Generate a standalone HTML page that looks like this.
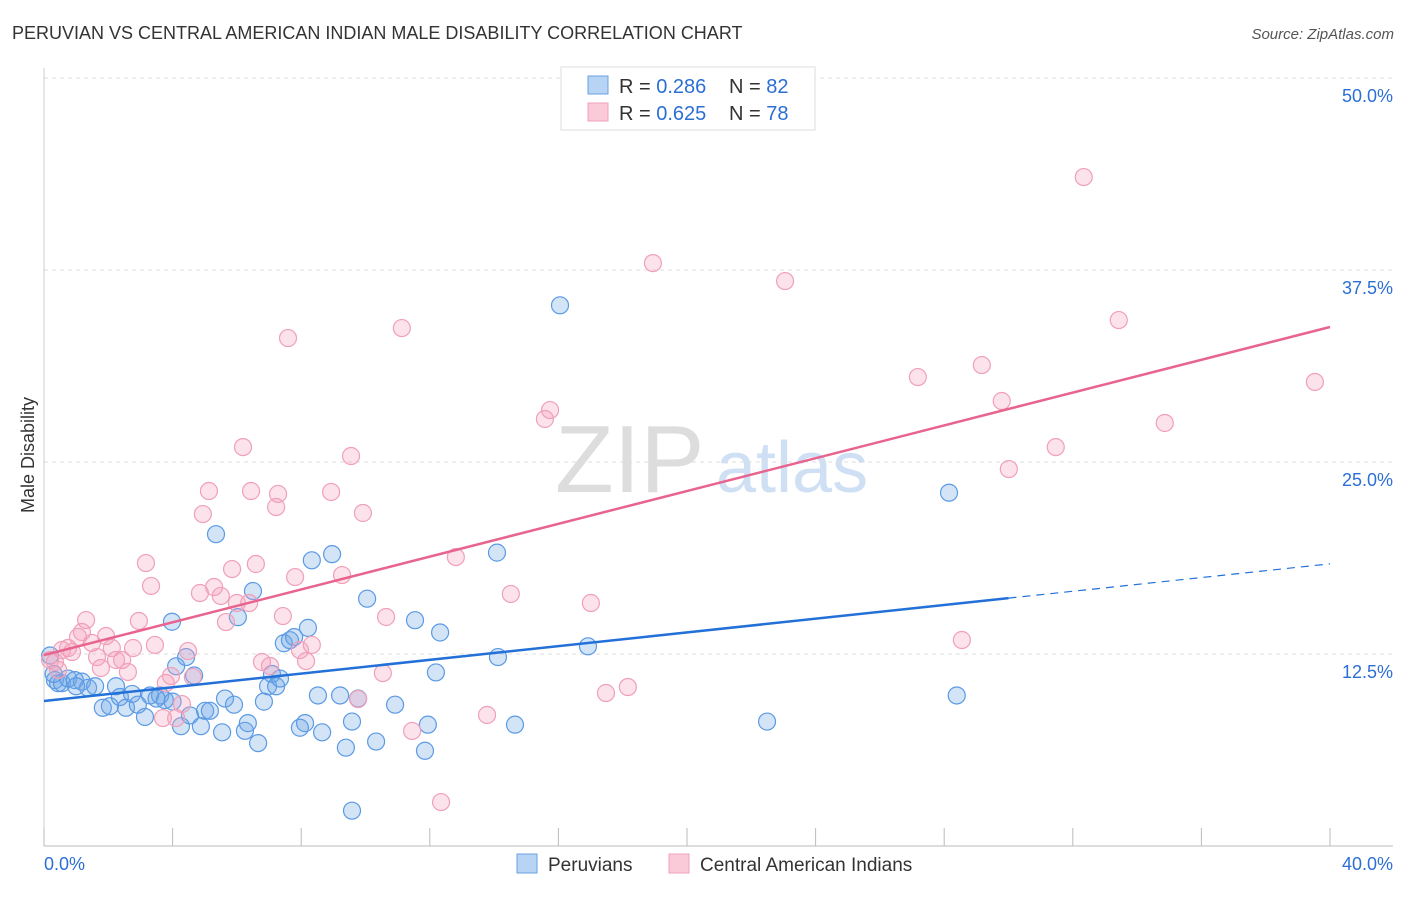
<!DOCTYPE html>
<html><head><meta charset="utf-8"><style>
body{margin:0;background:#fff;font-family:"Liberation Sans",sans-serif;}
svg text{font-family:"Liberation Sans",sans-serif;}
</style></head><body>
<svg id="chart" width="1406" height="892" xmlns="http://www.w3.org/2000/svg">
<text x="12" y="39" font-size="18" fill="#333">PERUVIAN VS CENTRAL AMERICAN INDIAN MALE DISABILITY CORRELATION CHART</text>
<text x="1394" y="39" font-size="15" fill="#555" font-style="italic" text-anchor="end">Source: ZipAtlas.com</text>
<text x="555" y="492" font-size="96" fill="#ddd" font-family="Liberation Serif,serif">ZIP</text>
<text x="716" y="492" font-size="72" fill="#cfe0f4">atlas</text>
<text x="34" y="455" font-size="18" fill="#333" transform="rotate(-90 34 455)" text-anchor="middle">Male Disability</text>
<g id="grid"></g><g id="pts"></g><g id="lines"></g>
<g>
<rect x="561" y="67" width="254" height="63" fill="#fff" stroke="#ddd"/>
<rect x="588" y="76" width="20" height="18" fill="#b8d4f4" stroke="#6aa0e0"/>
<rect x="588" y="103" width="20" height="18" fill="#fbcad8" stroke="#f0a0b8"/>
<text x="619" y="93" font-size="20" fill="#333">R = <tspan fill="#2b6fd6">0.286</tspan></text>
<text x="729" y="93" font-size="20" fill="#333">N = <tspan fill="#2b6fd6">82</tspan></text>
<text x="619" y="120" font-size="20" fill="#333">R = <tspan fill="#2b6fd6">0.625</tspan></text>
<text x="729" y="120" font-size="20" fill="#333">N = <tspan fill="#2b6fd6">78</tspan></text>
</g>
<g>
<rect x="517" y="854" width="20" height="19" fill="#b8d4f4" stroke="#6aa0e0"/>
<text x="548" y="871" font-size="19" fill="#333">Peruvians</text>
<rect x="669" y="854" width="20" height="19" fill="#fbcad8" stroke="#f0a0b8"/>
<text x="700" y="871" font-size="19" fill="#333">Central American Indians</text>
</g>
</svg>
<script>
const yTicks=[12.5,25,37.5,50];
const yTickLabels=["12.5%","25.0%","37.5%","50.0%"];
const xLabels=["0.0%","40.0%"];
const blueX=[0.19,0.34,0.44,0.56,0.75,0.96,1.18,1.37,1.59,1.83,2.05,2.24,2.36,2.55,2.74,2.92,3.14,3.30,3.61,3.76,3.98,4.11,4.26,4.42,4.54,4.67,4.88,5.01,5.16,5.35,5.54,5.63,5.91,6.03,6.25,6.34,6.50,6.66,6.84,6.97,7.09,7.22,7.34,7.46,7.65,7.78,7.96,8.12,8.21,8.33,8.52,8.65,8.96,9.21,9.39,9.58,9.77,10.05,10.33,10.92,11.54,11.85,11.94,12.19,12.32,14.09,14.12,14.65,16.05,16.92,22.49,28.15,28.39,9.58,0.3,1.0,3.5,4.0];
const blueY=[12.4,10.8,10.6,10.6,10.9,10.8,10.7,10.3,10.4,9.0,9.1,10.4,9.7,9.0,9.9,9.2,8.4,9.8,9.8,9.5,14.6,11.7,7.8,12.3,8.5,11.1,7.8,8.8,8.8,20.3,7.4,9.6,9.2,14.9,7.5,8.0,16.6,6.7,9.4,10.4,11.2,10.4,10.9,13.2,13.4,13.6,7.7,8.0,14.2,18.6,9.8,7.4,19.0,9.8,6.4,8.1,9.6,16.1,6.8,9.2,14.7,6.2,7.9,11.3,13.9,19.1,12.3,7.9,35.2,13.0,8.1,23.0,9.8,2.3,11.2,10.4,9.6,9.4];
const pinkX=[0.19,0.34,0.44,0.56,0.75,0.87,1.06,1.18,1.31,1.49,1.65,1.77,1.93,2.11,2.24,2.43,2.61,2.77,2.95,3.17,3.33,3.45,3.70,3.79,3.95,4.11,4.29,4.48,4.63,4.85,4.94,5.13,5.29,5.50,5.66,5.85,6.00,6.19,6.38,6.44,6.59,6.78,7.03,7.22,7.28,7.43,7.59,7.81,7.96,8.15,8.33,8.93,9.27,9.55,9.77,9.92,10.54,10.64,11.13,11.45,12.35,12.81,13.78,14.52,15.58,15.74,17.01,17.48,18.16,18.94,23.05,27.18,28.55,29.17,29.79,30.01,31.47,32.34,33.43,34.86,39.53];
const pinkY=[12.11,11.98,11.46,12.76,12.89,12.63,13.61,13.93,14.71,13.22,12.30,11.59,13.67,12.89,12.11,12.11,11.33,12.89,14.65,18.42,16.93,13.09,8.33,10.61,11.07,8.33,9.24,12.69,11.00,16.47,21.61,23.11,16.86,16.28,14.58,18.03,15.82,25.97,15.82,23.11,18.36,11.98,11.72,22.07,22.92,14.97,33.07,17.51,12.76,12.04,13.09,23.05,17.64,25.39,9.57,21.68,11.26,14.91,33.72,7.49,2.86,18.81,8.53,16.41,27.80,28.38,15.82,9.96,10.35,37.95,36.78,30.53,13.41,31.31,28.97,24.54,25.97,43.55,34.24,27.54,30.21];
const blueTrend=[9.44,18.37], blueSolidEnd=30;
const pinkTrend=[12.43,33.79];
const NS="http://www.w3.org/2000/svg";
const X0=44,X1=1330,Y0=846,PXPER=192/12.5;
const xs=v=>X0+(v/40)*(X1-X0);
const ys=v=>Y0-v*PXPER;
function mk(tag,attrs,parent){const e=document.createElementNS(NS,tag);for(const k in attrs)e.setAttribute(k,attrs[k]);parent.appendChild(e);return e;}
const grid=document.getElementById('grid');
yTicks.forEach((t,i)=>{
  const l=mk('line',{x1:X0,x2:1393,y1:ys(t),y2:ys(t),stroke:'#ddd','stroke-dasharray':'4,4'},grid);
  
  
  const tx=mk('text',{x:1393,y:ys(t)+24,'font-size':18,fill:'#2b6fd6','text-anchor':'end'},grid);
  tx.textContent=yTickLabels[i];
  
  
});
const ax=mk('line',{x1:X0,x2:X0,y1:68,y2:Y0,stroke:'#ccc'},grid);


const bx=mk('line',{x1:X0,x2:1393,y1:Y0,y2:Y0,stroke:'#bbb'},grid);


for(let i=0;i<=10;i++){const t=mk('line',{x1:xs(i*4),x2:xs(i*4),y1:828,y2:Y0,stroke:'#bbb'},grid);
  
  }
[[0,'start',X0],[40,'end',1393]].forEach((d,i)=>{const t=mk('text',{x:d[2],y:870,'font-size':18,fill:'#2b6fd6','text-anchor':d[1]},grid);t.textContent=xLabels[i];
  
  });
const pts=document.getElementById('pts');
blueX.forEach((x,i)=>{const c=mk('circle',{cx:xs(x),cy:ys(blueY[i]),r:8.5,fill:'rgba(110,165,230,0.3)',stroke:'#5b9ae4','stroke-width':1.2},pts);
  
  });
pinkX.forEach((x,i)=>{const c=mk('circle',{cx:xs(x),cy:ys(pinkY[i]),r:8.5,fill:'rgba(245,160,190,0.3)',stroke:'#f0a0b8','stroke-width':1.2},pts);
  
  });
const lines=document.getElementById('lines');
const by=v=>blueTrend[0]+(blueTrend[1]-blueTrend[0])*v/40;
const l1=mk('line',{x1:xs(0),y1:ys(by(0)),x2:xs(blueSolidEnd),y2:ys(by(blueSolidEnd)),stroke:'#2270d8','stroke-width':2.5},lines);


const l2=mk('line',{x1:xs(blueSolidEnd),y1:ys(by(blueSolidEnd)),x2:xs(40),y2:ys(by(40)),stroke:'#2270d8','stroke-width':1.2,'stroke-dasharray':'8,6'},lines);


const l3=mk('line',{x1:xs(0),y1:ys(pinkTrend[0]),x2:xs(40),y2:ys(pinkTrend[1]),stroke:'#e8648e','stroke-width':2.5},lines);


</script>
</body></html>
